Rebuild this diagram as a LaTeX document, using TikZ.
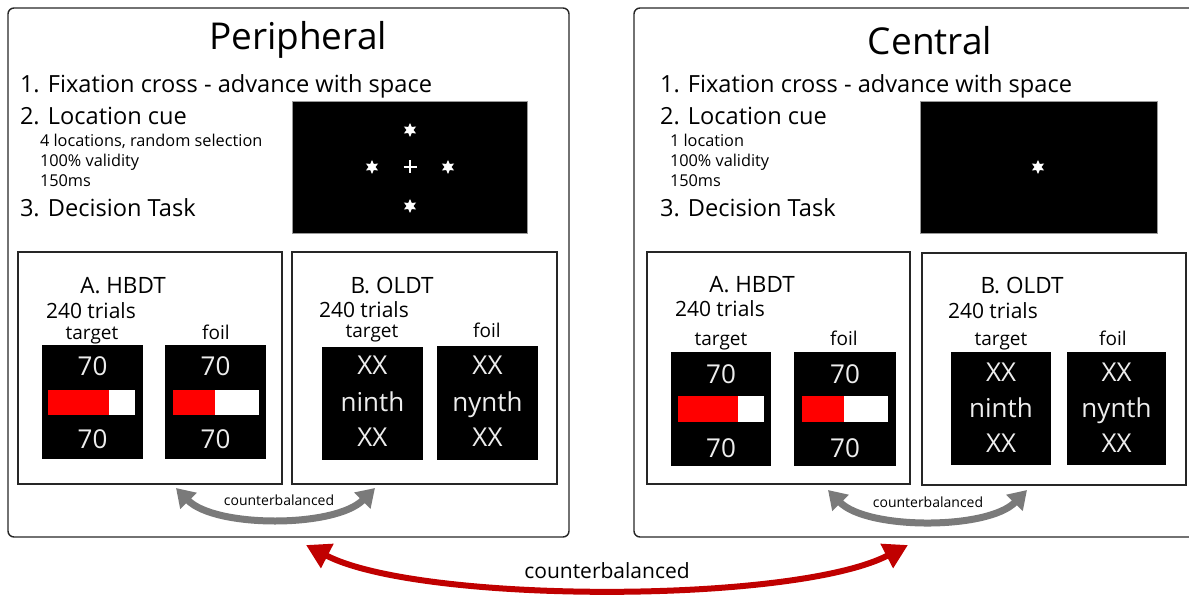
\documentclass[tikz,border=0pt]{standalone}
\usepackage{fontspec}
\setmainfont{Open Sans}
\usetikzlibrary{shapes.geometric,arrows.meta}
\newcommand{\pxfont}[1]{\fontsize{#1}{#1}\selectfont}
\definecolor{balancegray}{HTML}{7A7A7A}
\definecolor{balancered}{HTML}{C00000}
\definecolor{barred}{HTML}{FF0000}
\begin{document}
\begin{tikzpicture}[x=1pt,y=-1pt,
  every node/.style={inner sep=0pt, outer sep=0pt},
  panel/.style={draw=black!85, line width=1.4pt, rounded corners=6pt},
  taskbox/.style={draw=black!85, line width=1.4pt},
  screen/.style={fill=black, anchor=north west},
  cuepanel/.style={fill=black, draw=black!40, line width=0.8pt},
  titletext/.style={anchor=base, font=\pxfont{37}},
  stepline/.style={anchor=base west, font=\pxfont{23.6}},
  detail/.style={anchor=base west, font=\pxfont{16.3}},
  tasktitle/.style={anchor=base, font=\pxfont{22.5}},
  trials/.style={anchor=base west, font=\pxfont{21}},
  stimlabel/.style={anchor=base, font=\pxfont{19}},
  stimtext/.style={anchor=base, text=white!93!black, font=\pxfont{26}},
  cuestar/.style={star, star points=6, star point ratio=2, fill=white, minimum size=14pt},
  balance/.style={draw=balancegray, line width=7pt,
    {Triangle[length=18pt,width=22pt]}-{Triangle[length=18pt,width=22pt]}},
  bigbalance/.style={draw=balancered, line width=6pt,
    {Triangle[length=24pt,width=26pt]}-{Triangle[length=24pt,width=26pt]}}
]
\useasboundingbox (0,0) rectangle (1189,596);

% ---------- outer panels ----------
\draw[panel] (8,8) rectangle (569,537);
\draw[panel] (1200,8) -- (634,8) -- (634,537) -- (1200,537);

% ---------- Peripheral ----------
\node[titletext] (ptitle) at (298,50) {Peripheral};
\node[stepline] (pstep1) at (20,93) {1. Fixation cross - advance with space};
\node[stepline] (pstep2) at (20,125) {2. Location cue};
\node[detail] (pdet1) at (40,147) {4 locations, random selection};
\node[detail] (pdet2) at (40,167) {100\% validity};
\node[detail] (pdet3) at (40,187) {150ms};
\node[stepline] (pstep3) at (20,217) {3. Decision Task};

\draw[cuepanel] (292,101) rectangle (527,233);
\node[cuestar] (pstarN) at (410,130) {};
\node[cuestar] (pstarW) at (372,167) {};
\node[cuestar] (pstarE) at (448,167) {};
\node[cuestar] (pstarS) at (410,206) {};
\draw[white, line width=2.2pt] (403.5,167) -- (416.5,167) (410,160.5) -- (410,173.5);

% task A (left)
\draw[taskbox] (18,252) rectangle (282,484);
\node[tasktitle] (pAtitle) at (123,294) {A. HBDT};
\node[trials] (pAtrials) at (46,318) {240 trials};
\node[stimlabel] (pAtl) at (92,339) {target};
\node[stimlabel] (pAfl) at (216,339) {foil};
\node[screen, minimum width=101pt, minimum height=114pt] (pAt) at (42,345) {};
\node[screen, minimum width=101pt, minimum height=114pt] (pAf) at (165,345) {};
\fill[barred] (48,390) rectangle (109,415);
\fill[white] (109,390) rectangle (135,415);
\fill[barred] (173,390) rectangle (215,415);
\fill[white] (215,390) rectangle (259,415);
\node[stimtext] at (92.5,375) {70};
\node[stimtext] at (92.5,448) {70};
\node[stimtext] at (215.5,375) {70};
\node[stimtext] at (215.5,448) {70};

% task B (left)
\draw[taskbox] (292,252) rectangle (557,484);
\node[tasktitle] (pBtitle) at (392,293) {B. OLDT};
\node[trials] (pBtrials) at (319,317) {240 trials};
\node[stimlabel] (pBtl) at (372,337) {target};
\node[stimlabel] (pBfl) at (487,337) {foil};
\node[screen, minimum width=101pt, minimum height=113pt] (pBt) at (322,347) {};
\node[screen, minimum width=101pt, minimum height=114pt] (pBf) at (437,346) {};
\node[stimtext] at (372.5,374) {XX};
\node[stimtext] at (372.5,411) {ninth};
\node[stimtext] at (372.5,446) {XX};
\node[stimtext] at (487.5,374) {XX};
\node[stimtext] at (487.5,411) {nynth};
\node[stimtext] at (487.5,446) {XX};

% ---------- Central ----------
\node[titletext] (ctitle) at (930,55) {Central};
\node[stepline] (cstep1) at (660,93) {1. Fixation cross - advance with space};
\node[stepline] (cstep2) at (660,125) {2. Location cue};
\node[detail] (cdet1) at (670,147) {1 location};
\node[detail] (cdet2) at (670,167) {100\% validity};
\node[detail] (cdet3) at (670,187) {150ms};
\node[stepline] (cstep3) at (660,217) {3. Decision Task};

\draw[cuepanel] (920,101) rectangle (1157,233);
\node[cuestar] (cstar) at (1038,167) {};

% task A (right)
\draw[taskbox] (647,252) rectangle (910,484);
\node[tasktitle] (cAtitle) at (752,292) {A. HBDT};
\node[trials] (cAtrials) at (675,316) {240 trials};
\node[stimlabel] (cAtl) at (721,345) {target};
\node[stimlabel] (cAfl) at (844,345) {foil};
\node[screen, minimum width=100pt, minimum height=114pt] (cAt) at (671,352) {};
\node[screen, minimum width=102pt, minimum height=114pt] (cAf) at (794,352) {};
\fill[barred] (678,396) rectangle (738,422);
\fill[white] (738,396) rectangle (764,422);
\fill[barred] (802,396) rectangle (844,422);
\fill[white] (844,396) rectangle (888,422);
\node[stimtext] at (721,383) {70};
\node[stimtext] at (721,457) {70};
\node[stimtext] at (845,383) {70};
\node[stimtext] at (845,457) {70};

% task B (right)
\draw[taskbox] (922,253) rectangle (1186,485);
\node[tasktitle] (cBtitle) at (1022,293) {B. OLDT};
\node[trials] (cBtrials) at (948,318) {240 trials};
\node[stimlabel] (cBtl) at (1001,345) {target};
\node[stimlabel] (cBfl) at (1113,345) {foil};
\node[screen, minimum width=100pt, minimum height=113pt] (cBt) at (951,352) {};
\node[screen, minimum width=99pt, minimum height=113pt] (cBf) at (1067,352) {};
\node[stimtext] at (1001,381) {XX};
\node[stimtext] at (1001,417) {ninth};
\node[stimtext] at (1001,452) {XX};
\node[stimtext] at (1116.5,381) {XX};
\node[stimtext] at (1116.5,417) {nynth};
\node[stimtext] at (1116.5,452) {XX};

% ---------- counterbalancing arrows ----------
\coordinate (pL) at (176,488);
\coordinate (pR) at (375,488);
\draw[balance] (pL) .. controls (215,528) and (335,528) .. (pR);
\node[font=\pxfont{14}] (plabel) at (279,500) {counterbalanced};

\coordinate (cL) at (828,490);
\coordinate (cR) at (1027,490);
\draw[balance] (cL) .. controls (867,530) and (988,530) .. (cR);
\node[font=\pxfont{14}] (clabel) at (928,502) {counterbalanced};

\coordinate (mL) at (306,545);
\coordinate (mR) at (908,545);
\draw[bigbalance] (mL) .. controls (420,604) and (794,604) .. (mR);
\node[font=\pxfont{21}] (mlabel) at (607,571) {counterbalanced};
\end{tikzpicture}
\end{document}
